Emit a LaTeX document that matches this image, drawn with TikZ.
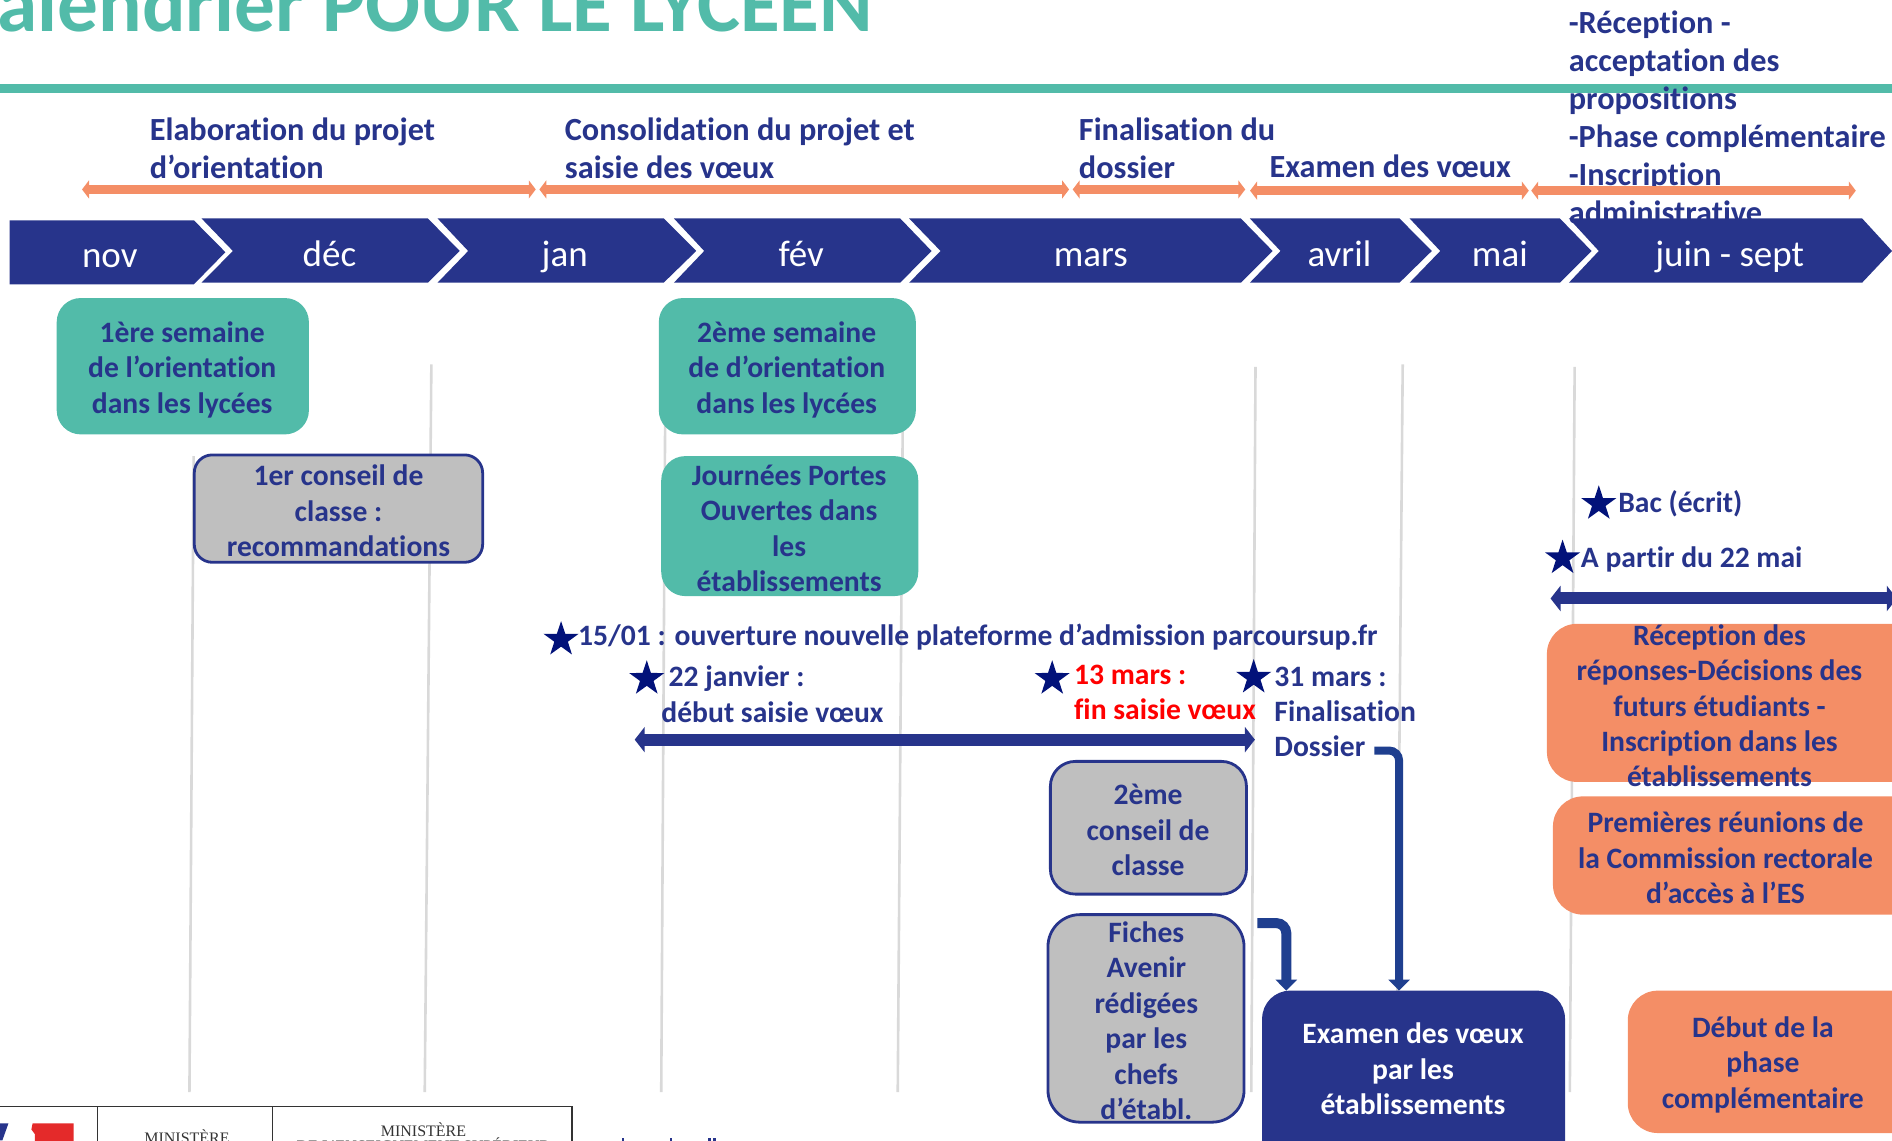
\documentclass[tikz,border=0pt]{standalone}
\usepackage{fontspec}
\setmainfont[Ligatures=NoCommon]{Carlito}
\newfontfamily\serifcut{Liberation Serif}
\usetikzlibrary{shapes.geometric,arrows.meta}
\definecolor{navy}{HTML}{27348B}
\definecolor{teal}{HTML}{52BBA9}
\definecolor{orng}{HTML}{F48E66}
\definecolor{greybox}{HTML}{BFBFBF}
\definecolor{gridl}{HTML}{D9D9D9}
\definecolor{starc}{HTML}{02127A}
\definecolor{elbow}{HTML}{1F3F8F}
\definecolor{flagred}{HTML}{E42A2A}
\tikzset{
 x=1.2066pt,y=-1.2066pt,
 lbl/.style={font=\fontsize{29.6}{35.4}\selectfont\bfseries,text=navy,align=left,anchor=west,inner sep=0pt},
 toplbl/.style={font=\fontsize{32.3}{38}\selectfont\bfseries,text=navy,align=left,anchor=west,inner sep=0pt},
 boxtxt/.style={font=\fontsize{29.6}{35.4}\selectfont\bfseries,text=navy,align=center,anchor=center,inner sep=0pt},
 month/.style={font=\fontsize{37}{38}\selectfont,text=white,anchor=base,inner sep=0pt},
 gridline/.style={draw=gridl,line width=2.6pt},
 tealbox/.style={fill=teal,rounded corners=24pt},
 greyb/.style={fill=greybox,draw=navy,line width=2.8pt,rounded corners=22pt},
 orngbox/.style={fill=orng,rounded corners=30pt},
 orngarrow/.style={draw=orng,line width=8.5pt,{Triangle[length=7pt,width=18pt]}-{Triangle[length=7pt,width=18pt]}},
 bluearrow/.style={draw=navy,line width=12pt,{Triangle[length=10pt,width=25pt]}-{Triangle[length=10pt,width=25pt]}},
 elbowarrow/.style={draw=elbow,line width=8pt,-{Triangle[length=11pt,width=21pt]},rounded corners=10pt},
 starn/.style={star,star points=5,star point ratio=2.6,fill=starc,inner sep=0pt,minimum size=37pt},
 logoline/.style={draw=black!80,line width=1.1pt},
 logotxt/.style={font=\serifcut\fontsize{16}{17}\selectfont,text=black!80,anchor=center,inner sep=0pt},
}
\begin{document}
\begin{tikzpicture}
\useasboundingbox (0,0) rectangle (1568,944.8);
\clip (0,0) rectangle (1568,944.8);
% title
\node[font=\fontsize{81.3}{82}\selectfont\bfseries,text=teal,anchor=base west,inner sep=0pt] (title) at (-38,26) {Calendrier POUR LE LYCEEN};
\fill[teal] (0,70) rectangle (1568,77);
% grid lines
\draw[gridline] (160.5,378) -- (157,905);
\draw[gridline] (357.5,302) -- (352,905);
\draw[gridline] (551.5,302) -- (548,905);
\draw[gridline] (748.5,302) -- (744,905);
\draw[gridline] (1040.5,304) -- (1037,905);
\draw[gridline] (1162.5,302) -- (1158,822);
\draw[gridline] (1305,304) -- (1301,905);
% top labels
\node[toplbl] (t1) at (124,122.5) {Elaboration du projet\\d’orientation};
\node[toplbl] (t2) at (468,122.5) {Consolidation du projet et\\saisie des vœux};
\node[toplbl] (t3) at (894,122.5) {Finalisation du\\dossier};
\node[toplbl] (t4) at (1052,137.5) {Examen des vœux};
\node[toplbl] (t5) at (1300,97.5) {-Réception -\\acceptation des\\propositions\\-Phase complémentaire\\-Inscription\\administrative};
% chevrons
\fill[navy] (8,182.6) -- (160.7,182.6) -- (186.8,209) -- (160.7,235.6) -- (8,235.6) -- cycle;
\fill[navy] (167,181) -- (354.6,181) -- (381,208) -- (354.6,234.3) -- (167,234.3) -- (193,208) -- cycle;
\fill[navy] (362.6,181) -- (550,181) -- (577,208) -- (550,234.3) -- (362.6,234.3) -- (388,208) -- cycle;
\fill[navy] (558.5,181) -- (746,181) -- (772,208) -- (746,234.3) -- (558.5,234.3) -- (583.6,208) -- cycle;
\fill[navy] (753.4,181) -- (1028.3,181) -- (1054.7,208) -- (1028.3,234.3) -- (753.4,234.3) -- (779.5,208) -- cycle;
\fill[navy] (1035.8,181) -- (1159.8,181) -- (1186.6,208) -- (1159.8,234.3) -- (1035.8,234.3) -- (1061.2,208) -- cycle;
\fill[navy] (1168.2,181) -- (1292.7,181) -- (1319,208) -- (1292.7,234.3) -- (1168.2,234.3) -- (1193.6,208) -- cycle;
\fill[navy] (1300.2,181) -- (1543.2,181) -- (1568,208) -- (1543.2,234.3) -- (1300.2,234.3) -- (1325,208) -- cycle;
\node[month] (nov) at (91,221.8) {nov};
\node[month] (dec) at (273,220.5) {déc};
\node[month] (jan) at (468,220.5) {jan};
\node[month] (fev) at (664,220.5) {fév};
\node[month] (mars) at (904,220.5) {mars};
\node[month] (avril) at (1110,220.5) {avril};
\node[month] (mai) at (1243,220.5) {mai};
\node[month] (juin) at (1433.5,220.5) {juin - sept};
% orange arrows
\coordinate (a1) at (68,157); \coordinate (a2) at (444,157);
\coordinate (a3) at (447,157); \coordinate (a4) at (886,157);
\coordinate (a5) at (889,157); \coordinate (a6) at (1032,157);
\coordinate (a7) at (1036,158); \coordinate (a8) at (1267,158);
\coordinate (a9) at (1269,158); \coordinate (a10) at (1538,158);
\draw[orngarrow] (a1) -- (a2);
\draw[orngarrow] (a3) -- (a4);
\draw[orngarrow] (a5) -- (a6);
\draw[orngarrow] (a7) -- (a8);
\draw[orngarrow] (a9) -- (a10);
% boxes
\fill[tealbox] (47,247) rectangle (256,360);
\node[boxtxt] (b1) at (151,306.3) {1ère semaine\\de l’orientation\\dans les lycées};
\fill[tealbox] (546,247) rectangle (759,360);
\node[boxtxt] (b2) at (652,306.3) {2ème semaine\\de d’orientation\\dans les lycées};
\fill[tealbox] (548,378) rectangle (761,494);
\node[boxtxt] (b3) at (654,438) {Journées Portes\\Ouvertes dans\\les\\établissements};
\draw[greyb,rounded corners=18pt] (161,377) rectangle (400,466);
\node[boxtxt] (b4) at (280.5,423.5) {1er conseil de\\classe :\\recommandations};
\draw[greyb,rounded corners=25pt] (870.5,631) rectangle (1033,741);
\node[boxtxt] (b5) at (951.5,688) {2ème\\conseil de\\classe};
\draw[greyb,rounded corners=32pt] (868.5,758) rectangle (1031,930);
\node[boxtxt] (b6) at (950,846) {Fiches\\Avenir\\rédigées\\par les\\chefs\\d’établ.};
\fill[navy,rounded corners=28pt] (1046,821) rectangle (1297,975);
\node[boxtxt,text=white] (b7) at (1171,886) {Examen des vœux\\par les\\établissements};
\fill[orngbox] (1282,517) rectangle (1600,648);
\node[boxtxt] (b8) at (1425,585) {Réception des\\réponses-Décisions des\\futurs étudiants -\\Inscription dans les\\établissements};
\fill[orngbox] (1287,660) rectangle (1600,758);
\node[boxtxt] (b9) at (1430,711) {Premières réunions de\\la Commission rectorale\\d’accès à l’ES};
\fill[orngbox] (1349,821) rectangle (1600,939);
\node[boxtxt] (b10) at (1461,882.5) {Début de la\\phase\\complémentaire};
% stars and notes
\node[starn] (s1) at (465,530) {};
\node[starn] (s2) at (536,562.5) {};
\node[starn] (s3) at (872,562.5) {};
\node[starn] (s4) at (1039,561.5) {};
\node[starn] (s5) at (1325,417.5) {};
\node[starn] (s6) at (1295,462.5) {};
\node[lbl] (n1) at (1341,417.5) {Bac (écrit)};
\node[lbl] (n2) at (1310,463.5) {A partir du 22 mai};
\node[lbl] (n3) at (479,528) {15/01 : ouverture nouvelle plateforme d’admission parcoursup.fr};
\node[lbl] (n4) at (554,562.5) {22 janvier :};
\node[lbl] (n5) at (548,590) {début saisie vœux};
\node[lbl,text=red] (n6) at (890,574) {13 mars :\\fin saisie vœux};
\node[lbl] (n7) at (1056,590) {31 mars :\\Finalisation\\Dossier};
% blue arrows
\coordinate (c1) at (526,613); \coordinate (c2) at (1040,613);
\coordinate (c3) at (1285,496); \coordinate (c4) at (1572,496);
\draw[bluearrow] (c1) -- (c2);
\draw[bluearrow] (c3) -- (c4);
% elbows
\coordinate (e1) at (1139,622); \coordinate (e2) at (1159.5,622);
\coordinate (e3) at (1042,765); \coordinate (e4) at (1066,765);
\coordinate (e5) at (1159.5,821); \coordinate (e6) at (1066,821);
\draw[elbowarrow] (e1) -- (e2) -- (e5);
\draw[elbowarrow,line width=10pt] (e3) -- (e4) -- (e6);
% logos
\draw[logoline] (-5,917) -- (474,917) -- (474,950);
\draw[logoline] (81,917) -- (81,950);
\draw[logoline] (226,917) -- (226,950);
\fill[flagred] (27,931) -- (61,931) -- (61,950) -- (29,950) -- (29,940) -- (26,936) -- cycle;
\fill[navy] (0,931) -- (7,931) -- (2,945) -- (0,945) -- cycle;
\node[logotxt] (m1) at (155,942) {MINISTÈRE};
\node[logotxt] (m2) at (351,936) {MINISTÈRE};
\node[logotxt] (m3) at (351,949) {DE L’ENSEIGNEMENT SUPÉRIEUR};
% tops of the cut-off line at the bottom edge
\fill[navy] (515.5,943) rectangle (517.5,946);
\fill[navy] (555,943) rectangle (557,946);
\fill[navy] (587,943) rectangle (589,946);
\fill[navy] (591,943) rectangle (593,946);
\end{tikzpicture}
\end{document}
